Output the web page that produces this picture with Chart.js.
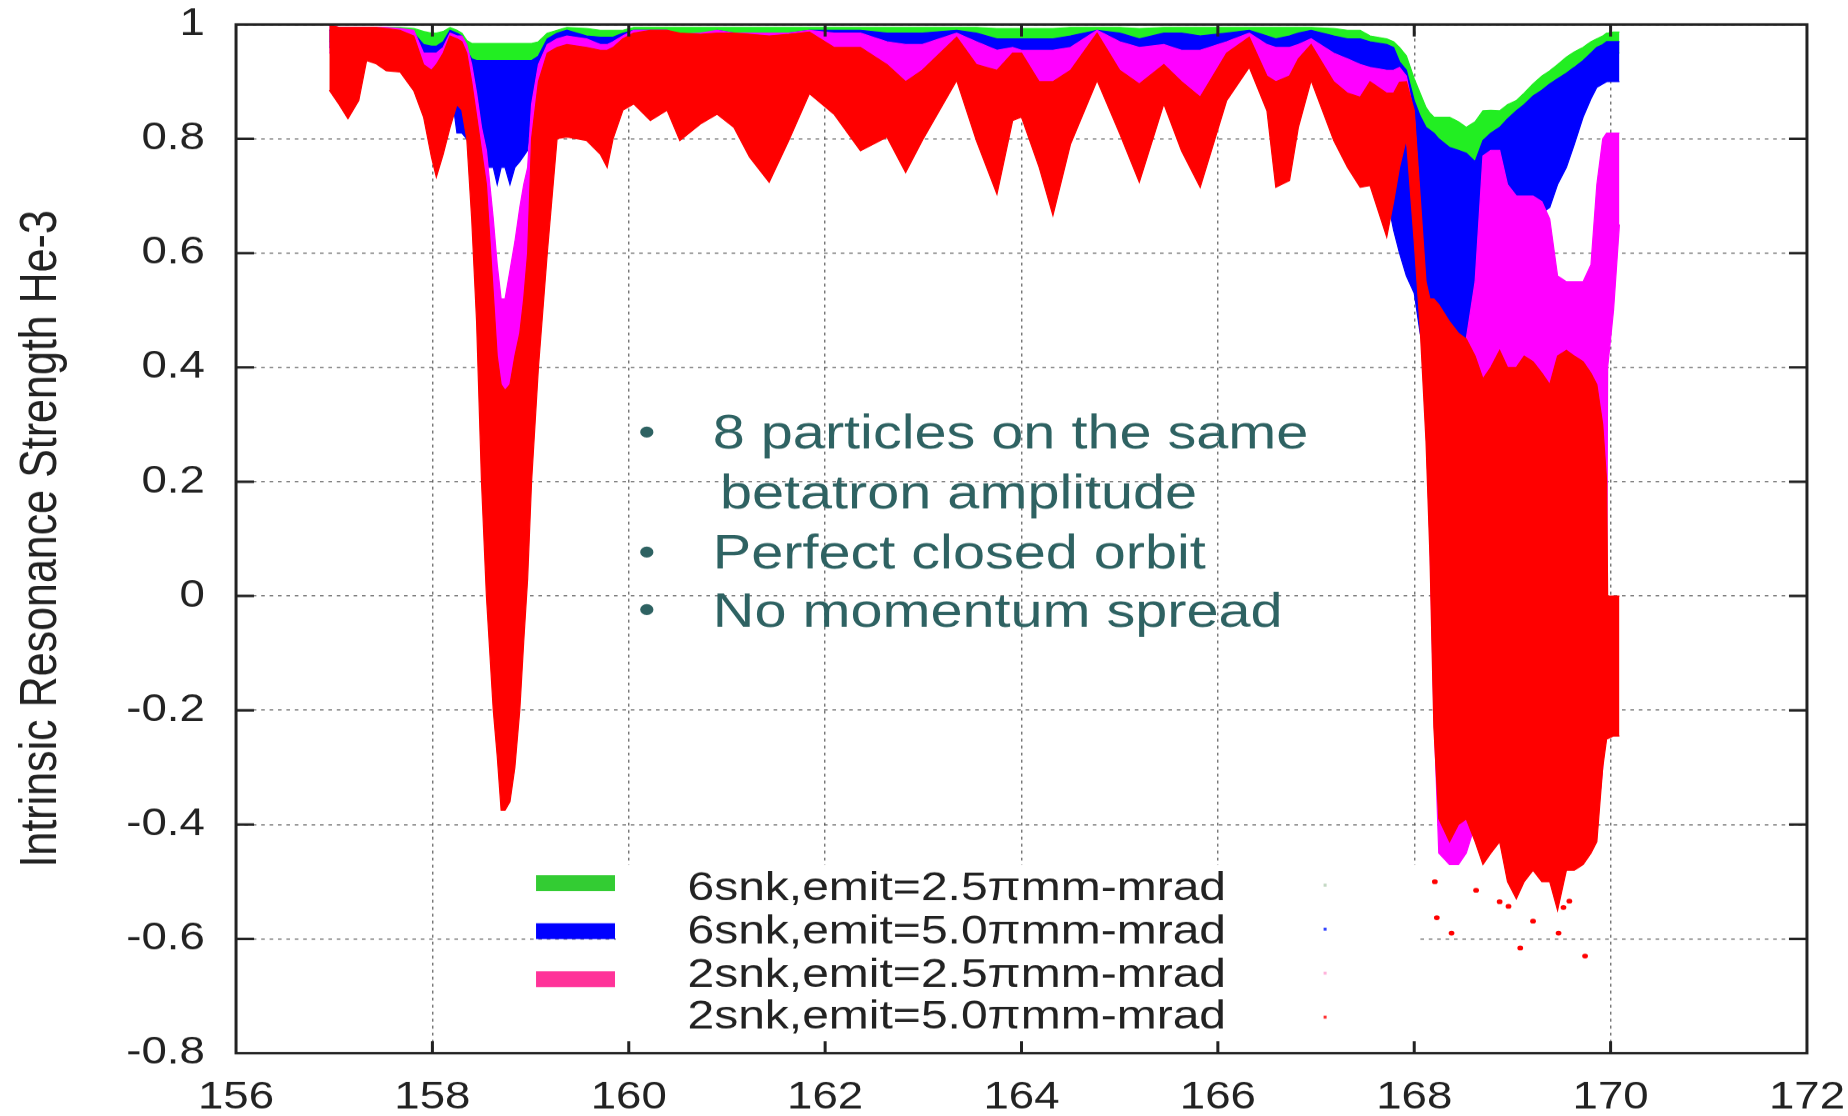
<!DOCTYPE html>
<html>
<head>
<meta charset="utf-8">
<title>Intrinsic Resonance Strength He-3</title>
<script src="https://cdn.jsdelivr.net/npm/chart.js"></script>
<style>
  html, body { margin: 0; padding: 0; background: #fff; overflow: hidden; }
  /* the original figure is a horizontally stretched gnuplot image */
  #wrap { position: relative; width: 1540px; height: 1116px; transform: scaleX(1.2); transform-origin: 0 0; }
</style>
</head>
<body>
<div id="wrap"><canvas id="resChart"></canvas></div>
<script>
const FONT = "'Liberation Sans', Arial, Helvetica, sans-serif";

const xTicks = [156, 158, 160, 162, 164, 166, 168, 170, 172];
const yTicks = [-0.8, -0.6, -0.4, -0.2, 0, 0.2, 0.4, 0.6, 0.8, 1];

const legendLabels = [
  "6snk,emit=2.5\u03c0mm-mrad",
  "6snk,emit=5.0\u03c0mm-mrad",
  "2snk,emit=2.5\u03c0mm-mrad",
  "2snk,emit=5.0\u03c0mm-mrad",
];
const noteLines = [
  "8 particles on the same",
  "betatron amplitude",
  "Perfect closed orbit",
  "No momentum spread",
];

// beam energy knots (x) shared by the envelope arrays below
const energy = [
  156.95, 157.05, 157.14, 157.25, 157.33, 157.43, 157.53, 157.67, 157.81, 157.91,
  157.99, 158.04, 158.11, 158.18, 158.25, 158.30, 158.35, 158.40, 158.45, 158.50,
  158.55, 158.62, 158.66, 158.70, 158.74, 158.79, 158.84, 158.89, 158.93, 158.97,
  159.01, 159.08, 159.17, 159.27, 159.37, 159.57, 159.71, 159.78, 159.84, 159.94,
  160.05, 160.22, 160.39, 160.52, 160.73, 160.90, 161.07, 161.23, 161.43, 161.63,
  161.84, 162.09, 162.36, 162.63, 162.82, 162.99, 163.34, 163.54, 163.75, 163.91,
  164.00, 164.18, 164.32, 164.50, 164.77, 165.00, 165.20, 165.45, 165.63, 165.82,
  166.09, 166.32, 166.50, 166.59, 166.73, 166.82, 166.95, 167.18, 167.32, 167.45,
  167.55, 167.72, 167.79, 167.85, 167.92, 168.00, 168.06, 168.12, 168.16, 168.20,
  168.25, 168.36, 168.45, 168.53, 168.62, 168.70, 168.78, 168.87, 168.95, 169.04,
  169.12, 169.21, 169.30, 169.38, 169.46, 169.55, 169.63, 169.72, 169.80, 169.86,
  169.92, 169.96, 169.97, 170.03, 170.09,
];

// 2snk, emit=5.0 (red) upper / lower edge of the scatter band
const redHi = [
  1.0, 0.995, 0.995, 0.995, 0.995, 0.995, 0.993, 0.99, 0.98, 0.93,
  0.92, 0.93, 0.95, 0.98, 0.975, 0.97, 0.95, 0.90, 0.84, 0.78,
  0.72, 0.53, 0.42, 0.37, 0.36, 0.37, 0.42, 0.46, 0.52, 0.60,
  0.80, 0.90, 0.95, 0.96, 0.965, 0.96, 0.955, 0.955, 0.96, 0.975,
  0.985, 0.99, 0.99, 0.985, 0.983, 0.985, 0.985, 0.983, 0.98, 0.983,
  0.987, 0.96, 0.96, 0.93, 0.90, 0.92, 0.978, 0.93, 0.92, 0.95,
  0.95, 0.90, 0.90, 0.92, 0.985, 0.92, 0.896, 0.93, 0.90, 0.873,
  0.95, 0.978, 0.91, 0.90, 0.91, 0.94, 0.965, 0.90, 0.88, 0.873,
  0.90, 0.88, 0.88, 0.899, 0.90, 0.85, 0.70, 0.55, 0.52, 0.52,
  0.51, 0.48, 0.46, 0.45, 0.42, 0.38, 0.40, 0.43, 0.40, 0.40,
  0.42, 0.41, 0.39, 0.37, 0.42, 0.43, 0.42, 0.41, 0.39, 0.37,
  0.30, 0.20, 0.00, 0.00, 0.00,
];
const redLo = [
  0.885, 0.86, 0.835, 0.867, 0.937, 0.931, 0.919, 0.917, 0.884, 0.838,
  0.768, 0.733, 0.773, 0.82, 0.86, 0.85, 0.80, 0.66, 0.48, 0.20,
  0.00, -0.20, -0.28, -0.375, -0.375, -0.36, -0.30, -0.20, -0.08, 0.03,
  0.20, 0.40, 0.60, 0.80, 0.803, 0.797, 0.773, 0.75, 0.80, 0.85,
  0.861, 0.832, 0.85, 0.797, 0.826, 0.843, 0.82, 0.768, 0.724, 0.797,
  0.879, 0.843, 0.779, 0.803, 0.741, 0.797, 0.902, 0.797, 0.703, 0.832,
  0.838, 0.75, 0.666, 0.791, 0.902, 0.809, 0.724, 0.861, 0.779, 0.715,
  0.867, 0.925, 0.849, 0.715, 0.727, 0.82, 0.902, 0.797, 0.75, 0.715,
  0.718, 0.628, 0.69, 0.75, 0.80, 0.62, 0.47, 0.27, 0.07, -0.23,
  -0.39, -0.43, -0.40, -0.39, -0.43, -0.47, -0.45, -0.43, -0.50, -0.53,
  -0.50, -0.48, -0.50, -0.50, -0.55, -0.48, -0.48, -0.47, -0.45, -0.43,
  -0.30, -0.25, -0.25, -0.245, -0.245,
];

// 2snk, emit=2.5 (magenta)
const pinkHi = [
  1.0, 0.995, 0.995, 0.995, 0.995, 0.995, 0.995, 0.993, 0.99, 0.95,
  0.95, 0.95, 0.96, 0.985, 0.98, 0.98, 0.965, 0.93, 0.88, 0.82,
  0.78, 0.66, 0.58, 0.52, 0.52, 0.57, 0.62, 0.68, 0.72, 0.75,
  0.86, 0.93, 0.965, 0.975, 0.98, 0.975, 0.965, 0.965, 0.97, 0.98,
  0.99, 0.99, 0.99, 0.983, 0.985, 0.99, 0.985, 0.985, 0.985, 0.985,
  0.99, 0.985, 0.985, 0.97, 0.965, 0.965, 0.985, 0.97, 0.955, 0.96,
  0.955, 0.955, 0.955, 0.96, 0.99, 0.97, 0.96, 0.965, 0.955, 0.955,
  0.97, 0.985, 0.965, 0.96, 0.96, 0.965, 0.975, 0.95, 0.94, 0.93,
  0.925, 0.92, 0.92, 0.925, 0.91, 0.84, 0.68, 0.52, 0.50, 0.50,
  0.48, 0.46, 0.45, 0.45, 0.55, 0.77, 0.78, 0.78, 0.72, 0.70,
  0.70, 0.70, 0.69, 0.66, 0.56, 0.55, 0.55, 0.55, 0.58, 0.72,
  0.80, 0.81, 0.81, 0.81, 0.81,
];
const pinkLo = [
  0.95, 0.95, 0.95, 0.95, 0.96, 0.96, 0.95, 0.95, 0.93, 0.87,
  0.85, 0.85, 0.85, 0.88, 0.88, 0.88, 0.85, 0.70, 0.60, 0.55,
  0.55, 0.45, 0.38, 0.36, 0.355, 0.36, 0.40, 0.44, 0.50, 0.55,
  0.60, 0.70, 0.80, 0.88, 0.88, 0.88, 0.87, 0.86, 0.88, 0.90,
  0.90, 0.90, 0.90, 0.88, 0.88, 0.90, 0.88, 0.86, 0.85, 0.88,
  0.92, 0.90, 0.87, 0.87, 0.85, 0.86, 0.93, 0.86, 0.85, 0.88,
  0.88, 0.85, 0.85, 0.86, 0.93, 0.86, 0.85, 0.88, 0.86, 0.85,
  0.90, 0.94, 0.87, 0.85, 0.86, 0.87, 0.92, 0.85, 0.84, 0.83,
  0.80, 0.75, 0.76, 0.78, 0.80, 0.70, 0.50, 0.30, 0.10, -0.20,
  -0.45, -0.47, -0.47, -0.45, -0.40, -0.40, -0.40, -0.40, -0.40, -0.40,
  -0.40, -0.40, -0.40, -0.40, -0.40, -0.40, -0.40, -0.40, -0.40, -0.40,
  -0.30, 0.00, 0.40, 0.50, 0.65,
];

// 6snk, emit=5.0 (blue)
const blueHi = [
  0.99, 0.99, 0.99, 0.99, 0.99, 0.99, 0.99, 0.99, 0.985, 0.965,
  0.962, 0.962, 0.97, 0.99, 0.985, 0.98, 0.955, 0.94, 0.937, 0.937,
  0.937, 0.937, 0.937, 0.937, 0.937, 0.937, 0.937, 0.937, 0.937, 0.937,
  0.937, 0.945, 0.975, 0.985, 0.99, 0.98, 0.978, 0.978, 0.978, 0.985,
  0.99, 0.99, 0.99, 0.98, 0.98, 0.99, 0.985, 0.985, 0.985, 0.985,
  0.99, 0.99, 0.99, 0.985, 0.985, 0.985, 0.99, 0.985, 0.975, 0.975,
  0.975, 0.975, 0.975, 0.98, 0.99, 0.985, 0.975, 0.985, 0.985, 0.98,
  0.985, 0.99, 0.98, 0.975, 0.98, 0.985, 0.99, 0.98, 0.975, 0.975,
  0.97, 0.965, 0.96, 0.935, 0.92, 0.867, 0.84, 0.82, 0.815, 0.81,
  0.80, 0.785, 0.78, 0.775, 0.76, 0.797, 0.81, 0.82, 0.835, 0.849,
  0.86, 0.875, 0.885, 0.896, 0.905, 0.915, 0.925, 0.937, 0.95, 0.96,
  0.965, 0.97, 0.97, 0.97, 0.97,
];
const blueLo = [
  0.96, 0.96, 0.955, 0.95, 0.94, 0.945, 0.95, 0.95, 0.95, 0.90,
  0.90, 0.90, 0.90, 0.90, 0.81, 0.81, 0.80, 0.78, 0.76, 0.75,
  0.75, 0.75, 0.72, 0.75, 0.75, 0.72, 0.75, 0.76, 0.77, 0.78,
  0.85, 0.88, 0.90, 0.93, 0.93, 0.93, 0.93, 0.93, 0.93, 0.94,
  0.95, 0.95, 0.95, 0.95, 0.95, 0.95, 0.95, 0.95, 0.95, 0.95,
  0.95, 0.95, 0.95, 0.94, 0.94, 0.94, 0.95, 0.94, 0.93, 0.93,
  0.93, 0.92, 0.92, 0.93, 0.95, 0.94, 0.93, 0.94, 0.93, 0.93,
  0.94, 0.95, 0.94, 0.93, 0.93, 0.94, 0.95, 0.93, 0.86, 0.90,
  0.85, 0.70, 0.64, 0.60, 0.56, 0.53, 0.46, 0.42, 0.40, 0.39,
  0.38, 0.38, 0.37, 0.38, 0.37, 0.37, 0.36, 0.40, 0.37, 0.62,
  0.67, 0.67, 0.67, 0.68, 0.72, 0.75, 0.79, 0.838, 0.87, 0.89,
  0.896, 0.90, 0.90, 0.90, 0.90,
];

// 6snk, emit=2.5 (green)
const greenHi = [
  0.99, 0.995, 0.995, 0.995, 0.995, 0.995, 0.995, 0.995, 0.993, 0.988,
  0.985, 0.985, 0.988, 0.995, 0.99, 0.985, 0.972, 0.967, 0.967, 0.967,
  0.967, 0.967, 0.967, 0.967, 0.967, 0.967, 0.967, 0.967, 0.967, 0.967,
  0.967, 0.97, 0.985, 0.99, 0.995, 0.993, 0.99, 0.99, 0.99, 0.99,
  0.995, 0.995, 0.995, 0.995, 0.995, 0.995, 0.995, 0.995, 0.995, 0.995,
  0.995, 0.995, 0.995, 0.995, 0.995, 0.995, 0.995, 0.995, 0.993, 0.993,
  0.993, 0.993, 0.993, 0.995, 0.995, 0.995, 0.993, 0.995, 0.995, 0.995,
  0.995, 0.995, 0.995, 0.995, 0.995, 0.995, 0.995, 0.993, 0.99, 0.99,
  0.98, 0.975, 0.97, 0.96, 0.945, 0.905, 0.88, 0.855, 0.845, 0.838,
  0.838, 0.838, 0.83, 0.82, 0.83, 0.849, 0.85, 0.849, 0.86, 0.867,
  0.88, 0.896, 0.91, 0.919, 0.93, 0.943, 0.952, 0.96, 0.97, 0.975,
  0.98, 0.985, 0.985, 0.987, 0.987,
];
const greenLo = [
  0.97, 0.97, 0.97, 0.97, 0.97, 0.97, 0.97, 0.97, 0.97, 0.95,
  0.95, 0.95, 0.95, 0.96, 0.96, 0.96, 0.94, 0.93, 0.93, 0.93,
  0.93, 0.93, 0.93, 0.93, 0.93, 0.93, 0.93, 0.93, 0.93, 0.93,
  0.93, 0.93, 0.95, 0.96, 0.96, 0.96, 0.96, 0.96, 0.96, 0.96,
  0.97, 0.97, 0.97, 0.97, 0.97, 0.97, 0.97, 0.97, 0.97, 0.97,
  0.97, 0.97, 0.97, 0.97, 0.97, 0.97, 0.97, 0.97, 0.96, 0.96,
  0.96, 0.96, 0.96, 0.97, 0.97, 0.97, 0.96, 0.97, 0.97, 0.97,
  0.97, 0.97, 0.97, 0.97, 0.97, 0.97, 0.97, 0.96, 0.95, 0.95,
  0.94, 0.94, 0.93, 0.92, 0.90, 0.86, 0.82, 0.81, 0.80, 0.80,
  0.79, 0.78, 0.77, 0.77, 0.75, 0.76, 0.80, 0.80, 0.82, 0.83,
  0.84, 0.85, 0.86, 0.87, 0.88, 0.89, 0.90, 0.91, 0.92, 0.93,
  0.94, 0.95, 0.95, 0.95, 0.95,
];

// stray red points below the dense band near 168-170
const strayE = [168.21, 168.23, 168.38, 168.63, 168.87, 168.96, 169.08, 169.21, 169.47, 169.52, 169.58, 169.74];
const strayV = [-0.50, -0.563, -0.59, -0.515, -0.535, -0.543, -0.616, -0.569, -0.59, -0.545, -0.534, -0.63];

const RED = "#ff0000", PINK = "#ff00ff", BLUE = "#0000ff", GREEN = "#22ee22";
const keyColors = ["#33cc33", "#0000ff", "#ff3399", null];
const keyDots = ["rgba(170,200,170,0.7)", "#3344ff", "rgba(255,160,210,0.8)", "#ff3030"];

// one band = lower edge (no fill) + upper edge filled down to it
const band = (name, hi, lo, color) => [
  {
    label: name + " (low)",
    data: energy.map((e, i) => ({ x: e, y: lo[i] })),
    borderColor: color, backgroundColor: color, borderWidth: 1,
    pointRadius: 0, fill: false,
  },
  {
    label: name,
    data: energy.map((e, i) => ({ x: e, y: hi[i] })),
    borderColor: color, backgroundColor: color, borderWidth: 1,
    pointRadius: 0, fill: "-1",
  },
];

// gnuplot-like frame, inward ticks, opaque key and the text box
const decor = {
  id: "decor",
  afterDatasetsDraw(chart) {
    const { ctx, chartArea: a, scales: { x, y } } = chart;
    ctx.save();

    // key
    ctx.fillStyle = "#fff";
    ctx.fillRect(513.3, 865, 668.4, 186);
    const barY = [883, 931, 979];
    const textY = [900, 943, 986.5, 1028.5];
    const dotY = [885, 929, 973, 1017];
    ctx.font = "40px " + FONT;
    ctx.textAlign = "right";
    ctx.textBaseline = "alphabetic";
    legendLabels.forEach((t, i) => {
      if (keyColors[i]) {
        ctx.fillStyle = keyColors[i];
        ctx.fillRect(446.7, barY[i] - 7.9, 65.8, 15.8);
      }
      ctx.fillStyle = "#222";
      ctx.fillText(t, 1021.7, textY[i]);
      ctx.fillStyle = keyDots[i];
      ctx.fillRect(1103, dotY[i] - 1.5, 2.5, 3);
    });

    // bullet notes
    ctx.fillStyle = "#2e6262";
    ctx.font = "48px " + FONT;
    ctx.textAlign = "left";
    const noteX = [594, 600, 594, 594];
    const noteY = [448, 508, 568, 627];
    const bulletY = [432, null, 552, 609.5];
    noteLines.forEach((t, i) => {
      ctx.fillText(t, noteX[i], noteY[i]);
      if (bulletY[i] !== null) {
        ctx.beginPath();
        ctx.arc(539, bulletY[i], 5.5, 0, Math.PI * 2);
        ctx.fill();
      }
    });

    // frame and ticks
    ctx.strokeStyle = "#222";
    ctx.lineWidth = 2.5;
    ctx.strokeRect(a.left, a.top, a.right - a.left, a.bottom - a.top);
    ctx.beginPath();
    xTicks.slice(1, -1).forEach(v => {
      const px = x.getPixelForValue(v);
      ctx.moveTo(px, a.bottom); ctx.lineTo(px, a.bottom - 12);
      ctx.moveTo(px, a.top); ctx.lineTo(px, a.top + 12);
    });
    yTicks.slice(1, -1).forEach(v => {
      const py = y.getPixelForValue(v);
      ctx.moveTo(a.left, py); ctx.lineTo(a.left + 15, py);
      ctx.moveTo(a.right, py); ctx.lineTo(a.right - 15, py);
    });
    ctx.stroke();
    ctx.restore();
  },
};

const chartCtx = document.getElementById("resChart").getContext("2d");
new Chart(chartCtx, {
  type: "line",
  data: {
    datasets: [
      {
        label: "2snk stray",
        data: strayE.map((e, i) => ({ x: e, y: strayV[i] })),
        showLine: false, pointRadius: 2.4, pointBorderWidth: 0,
        pointBackgroundColor: RED, borderColor: RED, fill: false,
      },
      ...band(legendLabels[3], redHi, redLo, RED),
      ...band(legendLabels[2], pinkHi, pinkLo, PINK),
      ...band(legendLabels[1], blueHi, blueLo, BLUE),
      ...band(legendLabels[0], greenHi, greenLo, GREEN),
    ],
  },
  options: {
    responsive: true,
    maintainAspectRatio: false,
    devicePixelRatio: 1.2,
    animation: false,
    events: [],
    elements: { line: { tension: 0 } },
    layout: { padding: { top: 24.5, right: 34.2, bottom: 0, left: 0 } },
    plugins: {
      legend: { display: false },
      tooltip: { enabled: false },
    },
    scales: {
      x: {
        type: "linear",
        min: 156,
        max: 172,
        afterBuildTicks: s => { s.ticks = xTicks.map(v => ({ value: v })); },
        afterFit: s => { s.height = 63; s.paddingLeft = 0; s.paddingRight = 0; },
        grid: { color: "rgba(85,85,85,0.8)", lineWidth: 1.2, drawTicks: false },
        border: { display: false, dash: [3, 4] },
        ticks: {
          color: "#222",
          font: { family: FONT, size: 38 },
          padding: 22,
          maxRotation: 0,
          autoSkip: false,
          callback: v => String(v),
        },
      },
      y: {
        type: "linear",
        min: -0.8,
        max: 1,
        afterBuildTicks: s => { s.ticks = yTicks.map(v => ({ value: v })); },
        afterFit: s => { s.width = 196.7; s.paddingTop = 0; s.paddingBottom = 0; },
        grid: { color: "rgba(85,85,85,0.8)", lineWidth: 1.2, drawTicks: false },
        border: { display: false, dash: [3, 4] },
        ticks: {
          color: "#222",
          font: { family: FONT, size: 38 },
          padding: 26,
          autoSkip: false,
          callback: v => String(+v.toFixed(1)),
        },
        title: {
          display: true,
          text: "Intrinsic Resonance Strength He-3",
          color: "#222",
          font: { family: FONT, size: 43 },
          padding: { top: 9, bottom: 0 },
        },
      },
    },
  },
  plugins: [decor],
});
</script>
</body>
</html>
